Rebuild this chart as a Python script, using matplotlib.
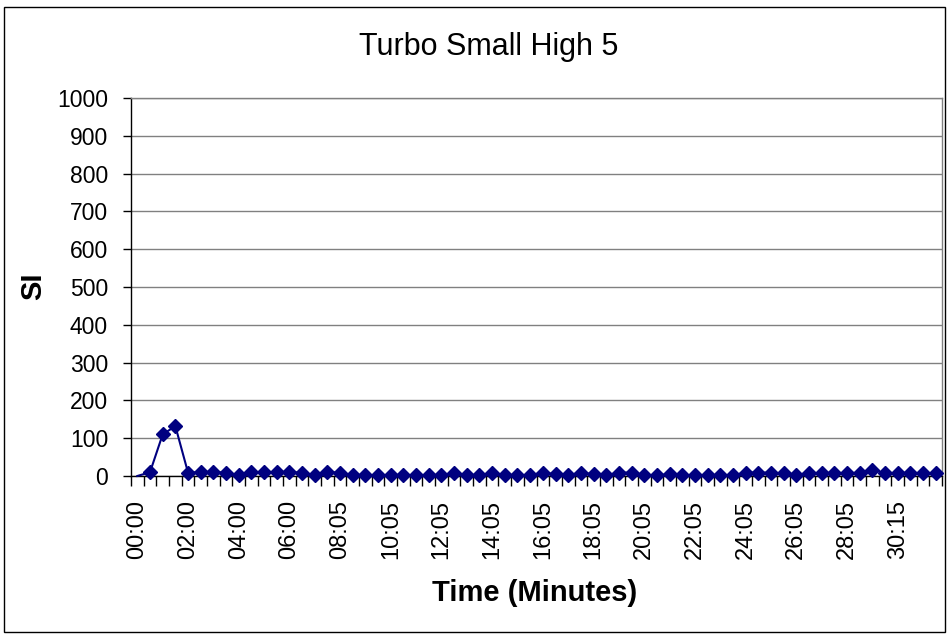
import matplotlib
matplotlib.use("Agg")
import matplotlib.pyplot as plt
from matplotlib.patches import Rectangle
from matplotlib.ticker import FixedLocator, NullFormatter

plt.rcParams['font.family'] = ['Liberation Sans', 'DejaVu Sans']

# Sample times (mm:ss) and SI readings
times = [
    "00:00", "00:30", "01:00", "01:30", "02:00", "02:30", "03:00", "03:30",
    "04:00", "04:30", "05:00", "05:30", "06:00", "06:30", "07:00", "07:35",
    "08:05", "08:35", "09:05", "09:35", "10:05", "10:35", "11:05", "11:35",
    "12:05", "12:35", "13:05", "13:35", "14:05", "14:35", "15:05", "15:35",
    "16:05", "16:35", "17:05", "17:35", "18:05", "18:35", "19:05", "19:35",
    "20:05", "20:35", "21:05", "21:35", "22:05", "22:35", "23:05", "23:35",
    "24:05", "24:35", "25:05", "25:35", "26:05", "26:35", "27:05", "27:35",
    "28:05", "28:35", "29:05", "29:40", "30:15", "30:45", "31:15", "31:45",
]
si_values = [
    0, 10, 110, 132, 9, 10, 10, 9, 2, 10, 10, 10, 10, 9, 2, 10,
    9, 2, 2, 2, 2, 2, 2, 2, 2, 7, 2, 2, 7, 2, 2, 2,
    9, 4, 2, 9, 4, 2, 9, 9, 2, 2, 4, 2, 2, 2, 2, 2,
    9, 9, 9, 7, 2, 9, 7, 9, 7, 9, 15, 9, 7, 9, 7, 7,
]
y_ticks = [0, 100, 200, 300, 400, 500, 600, 700, 800, 900, 1000]
label_step = 4

W, H = 947, 635
fig = plt.figure(figsize=(W / 100, H / 100), dpi=100)
fig.patch.set_facecolor("white")

# Outer chart frame
fig.patches.append(Rectangle((4 / W, 1 - 632 / H), 941 / W, 625 / H,
                             transform=fig.transFigure, fill=False,
                             edgecolor="black", linewidth=1.0))

ax = fig.add_axes([131 / W, 1 - 476 / H, 811 / W, 378 / H])
n = len(times)
x = list(range(n))

ax.plot(x, si_values, color="#000080", linewidth=1.5, marker="D",
        markersize=7.5, markerfacecolor="#000080", markeredgecolor="#000080",
        markevery=list(range(1, n)), zorder=3, clip_on=False)

ax.set_xlim(-0.5, n - 0.5)
ax.set_ylim(0, 1000)

# Horizontal gridlines
ax.set_yticks(y_ticks)
ax.yaxis.grid(True, color="#808080", linewidth=1.0)
ax.set_axisbelow(True)
ax.tick_params(axis="y", direction="out", length=6, width=1, pad=10.5,
               labelsize=16.5, color="black")

# Category axis: labels at every 4th category, tick marks between categories
ax.set_xticks(x[::label_step])
ax.set_xticklabels(times[::label_step], rotation=90)
ax.xaxis.set_minor_locator(FixedLocator([i - 0.5 for i in range(n + 1)]))
ax.xaxis.set_minor_formatter(NullFormatter())
ax.tick_params(axis="x", which="major", length=0, pad=17.5, labelsize=17)
ax.tick_params(axis="x", which="minor", direction="out", length=7, width=1,
               color="black")

for side in ("top", "right"):
    ax.spines[side].set_color("#808080")
    ax.spines[side].set_linewidth(1.0)
for side in ("left", "bottom"):
    ax.spines[side].set_color("black")
    ax.spines[side].set_linewidth(1.0)

fig.text(489 / W, 1 - 47 / H, "Turbo Small High 5", ha="center", va="center",
         fontsize=22)
fig.text(33 / W, 1 - 286 / H, "SI", ha="center", va="center", rotation=90,
         fontsize=21, fontweight="bold")
fig.text(535 / W, 1 - 593 / H, "Time (Minutes)", ha="center", va="center",
         fontsize=21, fontweight="bold")

fig.savefig("out.png", dpi=100)
